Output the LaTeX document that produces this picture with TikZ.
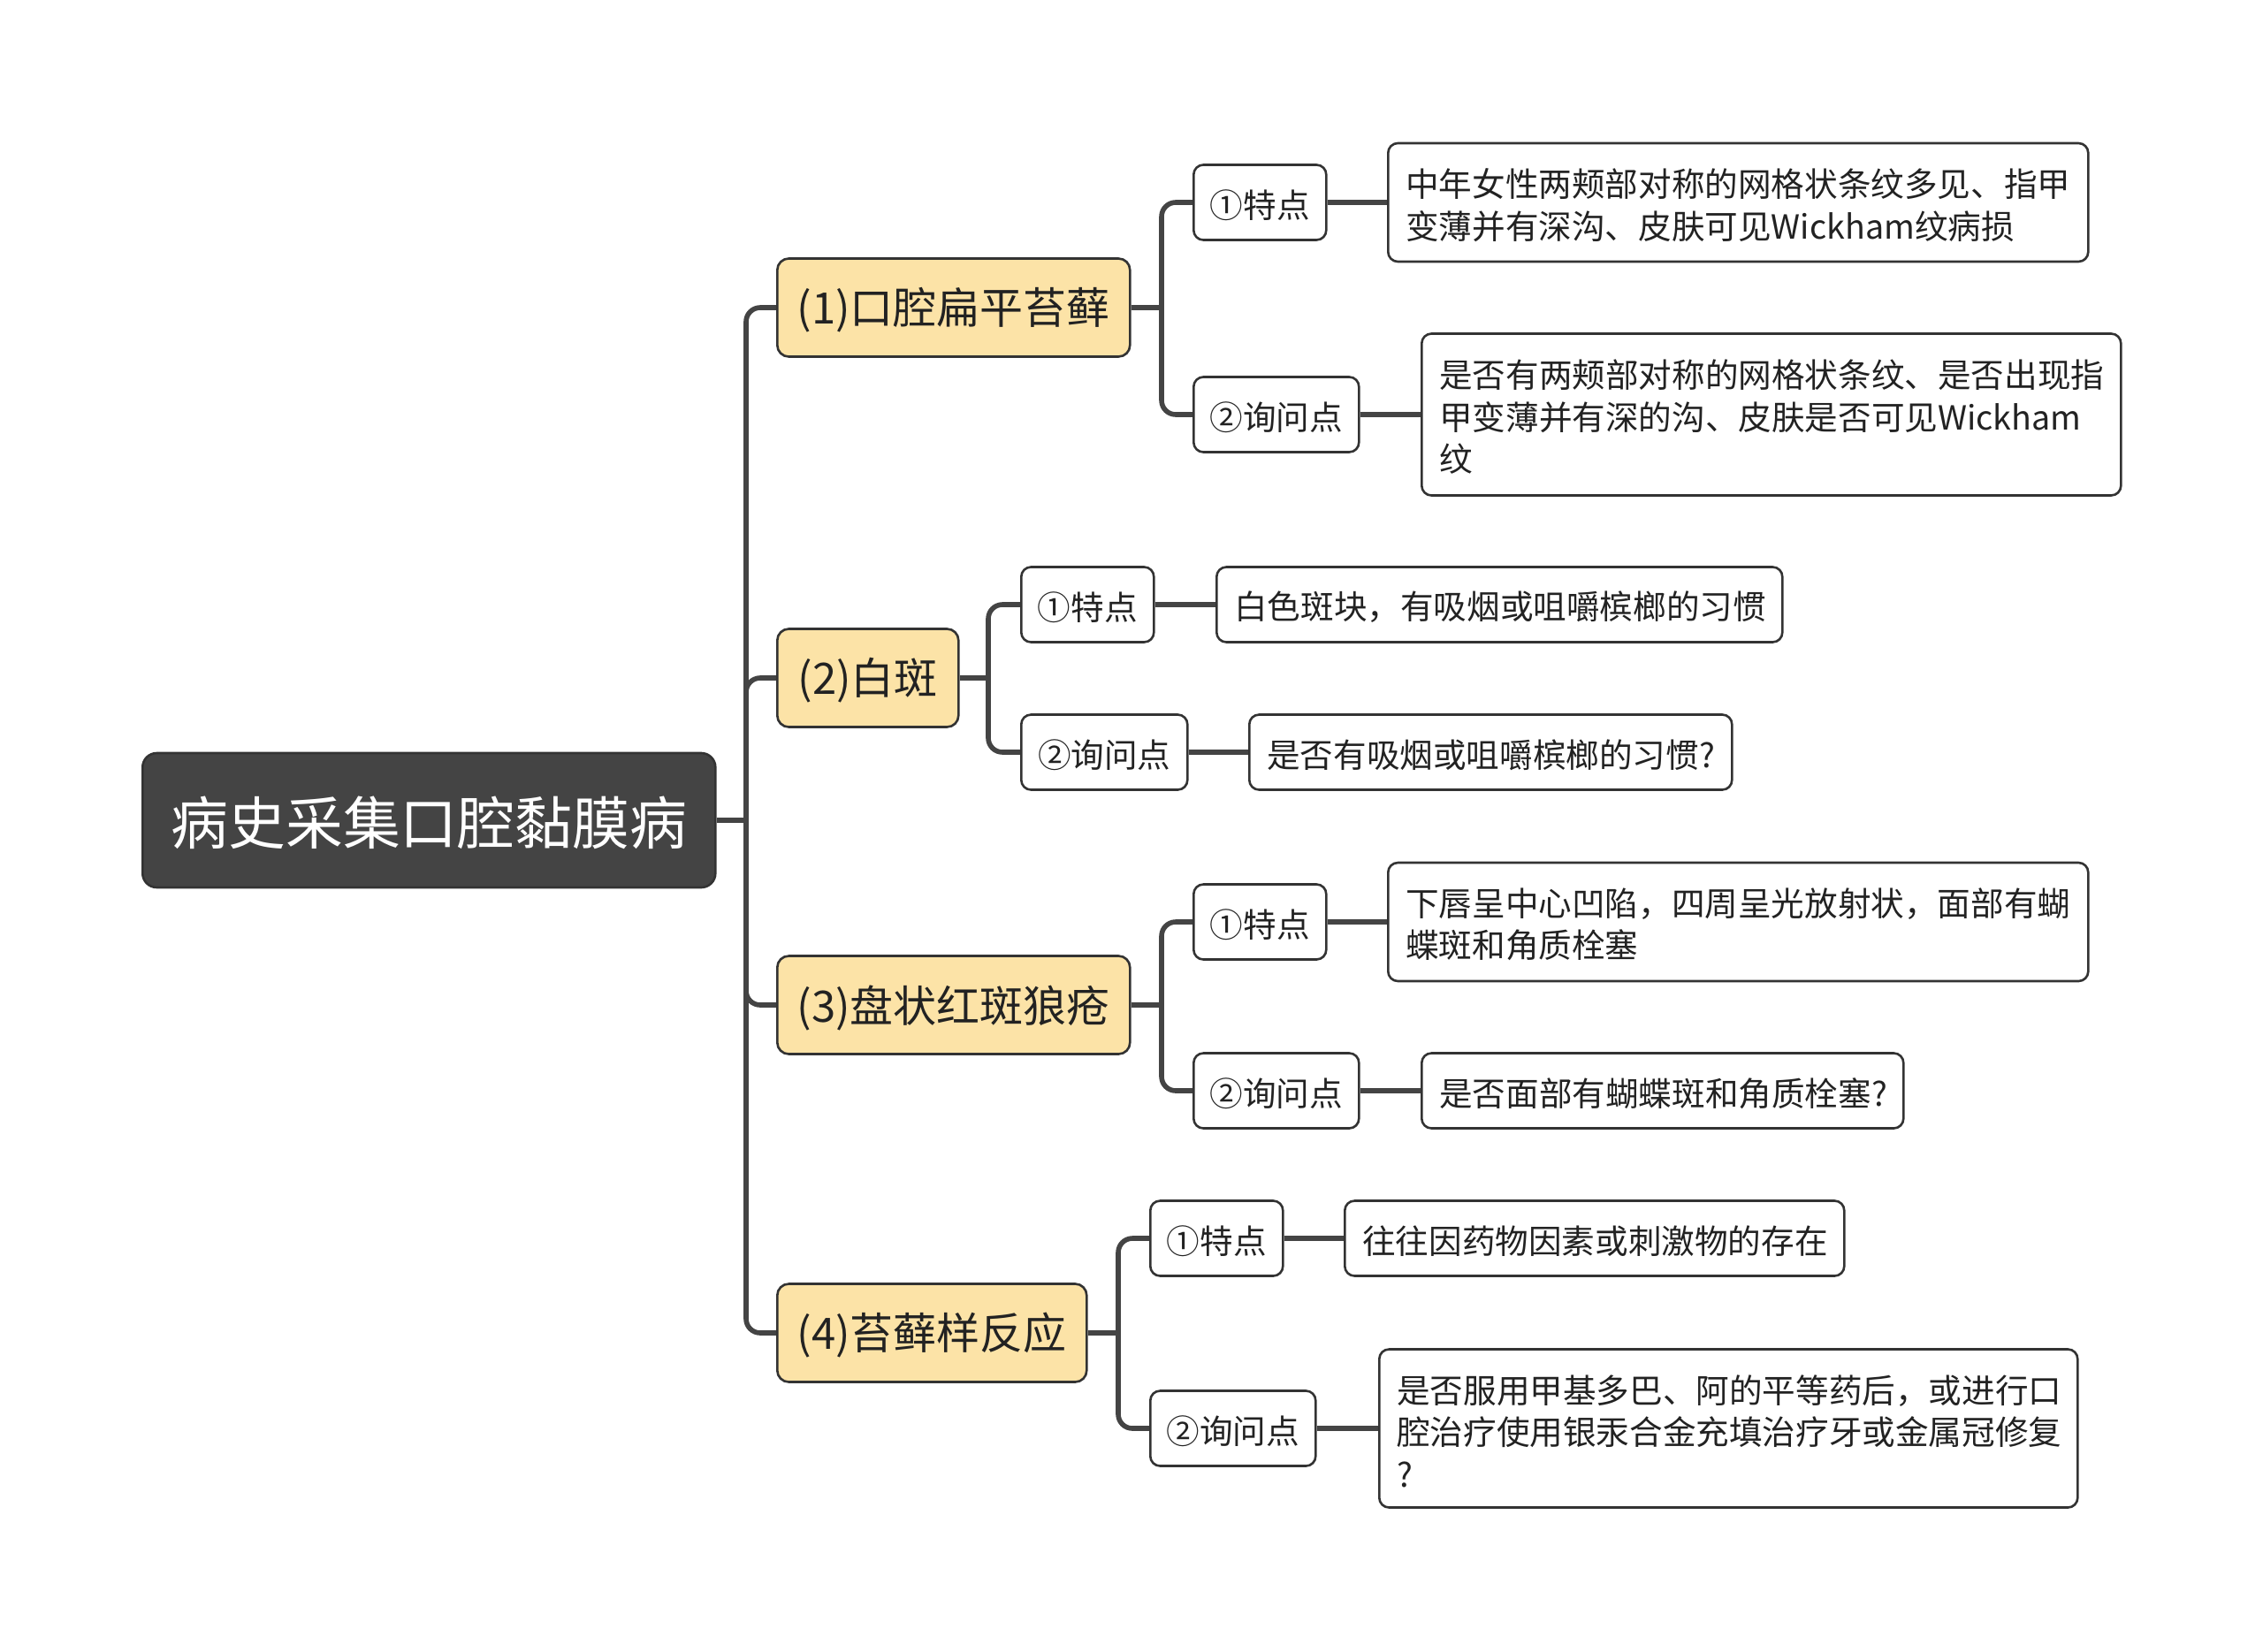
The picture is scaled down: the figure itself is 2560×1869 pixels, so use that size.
\documentclass[tikz,border=0pt]{standalone}
\usepackage{fontspec}
\setmainfont{Noto Sans CJK SC}
\definecolor{rootfill}{HTML}{444444}
\definecolor{linec}{HTML}{444444}
\definecolor{boxline}{HTML}{333333}
\definecolor{yel}{HTML}{FCE3A7}
\definecolor{txt}{HTML}{222222}
\newcommand\dn[1]{\raisebox{-1.5pt}[\height][\depth]{#1}}
\newcommand\lines[2]{\dn{\parbox{#1}{#2}}}
\begin{document}
\begin{tikzpicture}[x=0.5pt,y=-0.5pt,
  rootbox/.style={draw=boxline,line width=1.3pt,fill=rootfill,rounded corners=8pt,anchor=west,
    minimum height=76pt,inner sep=0pt,text=white,font=\fontsize{32.4}{38}\selectfont},
  lvlone/.style={draw=boxline,line width=1.3pt,fill=yel,rounded corners=6.5pt,anchor=west,
    minimum height=55.5pt,inner sep=0pt,text=txt,font=\fontsize{24.5}{30}\selectfont},
  lvltwo/.style={draw=boxline,line width=1.3pt,fill=white,rounded corners=5.5pt,anchor=west,
    minimum height=42.5pt,inner sep=0pt,text=txt,font=\fontsize{18.8}{23.75}\selectfont},
  detail/.style={draw=boxline,line width=1.3pt,fill=white,rounded corners=5.5pt,anchor=west,
    minimum height=42.5pt,inner xsep=10pt,inner ysep=0pt,text=txt,
    font=\fontsize{18.8}{23.75}\selectfont},
  conn/.style={draw=linec,line width=2.8pt,rounded corners=8pt}
]
\useasboundingbox (0,0) rectangle (2560,1869);
% root
\node[rootbox,minimum width=324pt] (root) at (160,928) {\dn{病史采集口腔黏膜病}};
% level 1
\node[lvlone,minimum width=199.5pt] (a1) at (878,348) {\dn{(1)口腔扁平苔藓}};
\node[lvlone,minimum width=102.5pt] (a2) at (878,767) {\dn{(2)白斑}};
\node[lvlone,minimum width=199.5pt] (a3) at (878,1137) {\dn{(3)盘状红斑狼疮}};
\node[lvlone,minimum width=175pt] (a4) at (878,1508) {\dn{(4)苔藓样反应}};
% level 2
\node[lvltwo,minimum width=75pt] (b11) at (1349,229) {\dn{①特点}};
\node[lvltwo,minimum width=93.5pt] (b12) at (1349,469) {\dn{②询问点}};
\node[lvltwo,minimum width=75pt] (b21) at (1154,684) {\dn{①特点}};
\node[lvltwo,minimum width=94pt] (b22) at (1154,851) {\dn{②询问点}};
\node[lvltwo,minimum width=75pt] (b31) at (1349,1043) {\dn{①特点}};
\node[lvltwo,minimum width=93.5pt] (b32) at (1349,1234) {\dn{②询问点}};
\node[lvltwo,minimum width=75pt] (b41) at (1300,1401) {\dn{①特点}};
\node[lvltwo,minimum width=93.5pt] (b42) at (1300,1616) {\dn{②询问点}};
% details
\node[detail,minimum width=396pt,minimum height=67pt] (c11) at (1569,229)
  {\lines{376pt}{中年女性两颊部对称的网格状条纹多见、指甲\\变薄并有深沟、皮肤可见Wickham纹病损}};
\node[detail,minimum width=395.5pt,minimum height=91.5pt] (c12) at (1607,469)
  {\lines{375.5pt}{是否有两颊部对称的网格状条纹、是否出现指\\甲变薄并有深的沟、皮肤是否可见Wickham\\纹}};
\node[detail,minimum width=320pt] (c21) at (1375,684) {\lines{300pt}{白色斑块，有吸烟或咀嚼槟榔的习惯}};
\node[detail,minimum width=273pt] (c22) at (1412,851) {\lines{253pt}{是否有吸烟或咀嚼槟榔的习惯?}};
\node[detail,minimum width=396pt,minimum height=67pt] (c31) at (1569,1043)
  {\lines{376pt}{下唇呈中心凹陷，四周呈光放射状，面部有蝴\\蝶斑和角质栓塞}};
\node[detail,minimum width=272.5pt] (c32) at (1607,1234) {\lines{252.5pt}{是否面部有蝴蝶斑和角质栓塞?}};
\node[detail,minimum width=282.5pt] (c41) at (1520,1401) {\lines{262.5pt}{往往因药物因素或刺激物的存在}};
\node[detail,minimum width=395pt,minimum height=89.5pt] (c42) at (1559,1616)
  {\lines{375pt}{是否服用甲基多巴、阿的平等药后，或进行口\\腔治疗使用银汞合金充填治疗牙或金属冠修复\\?}};
% junctions
\coordinate (s0) at (844,928);
\coordinate (j1) at (1314,348);
\coordinate (j2) at (1118,767);
\coordinate (j3) at (1314,1137);
\coordinate (j4) at (1265,1508);
% connectors
\draw[conn] (root.east) -- (s0);
\foreach \n in {a1,a2,a3,a4} \draw[conn] (s0) |- (\n.west);
\draw[conn] (a1.east) -- (j1);
\draw[conn] (a2.east) -- (j2);
\draw[conn] (a3.east) -- (j3);
\draw[conn] (a4.east) -- (j4);
\draw[conn] (j1) |- (b11.west);
\draw[conn] (j1) |- (b12.west);
\draw[conn] (j2) |- (b21.west);
\draw[conn] (j2) |- (b22.west);
\draw[conn] (j3) |- (b31.west);
\draw[conn] (j3) |- (b32.west);
\draw[conn] (j4) |- (b41.west);
\draw[conn] (j4) |- (b42.west);
\draw[conn] (b11.east) -- (c11.west);
\draw[conn] (b12.east) -- (c12.west);
\draw[conn] (b21.east) -- (c21.west);
\draw[conn] (b22.east) -- (c22.west);
\draw[conn] (b31.east) -- (c31.west);
\draw[conn] (b32.east) -- (c32.west);
\draw[conn] (b41.east) -- (c41.west);
\draw[conn] (b42.east) -- (c42.west);
\end{tikzpicture}
\end{document}
